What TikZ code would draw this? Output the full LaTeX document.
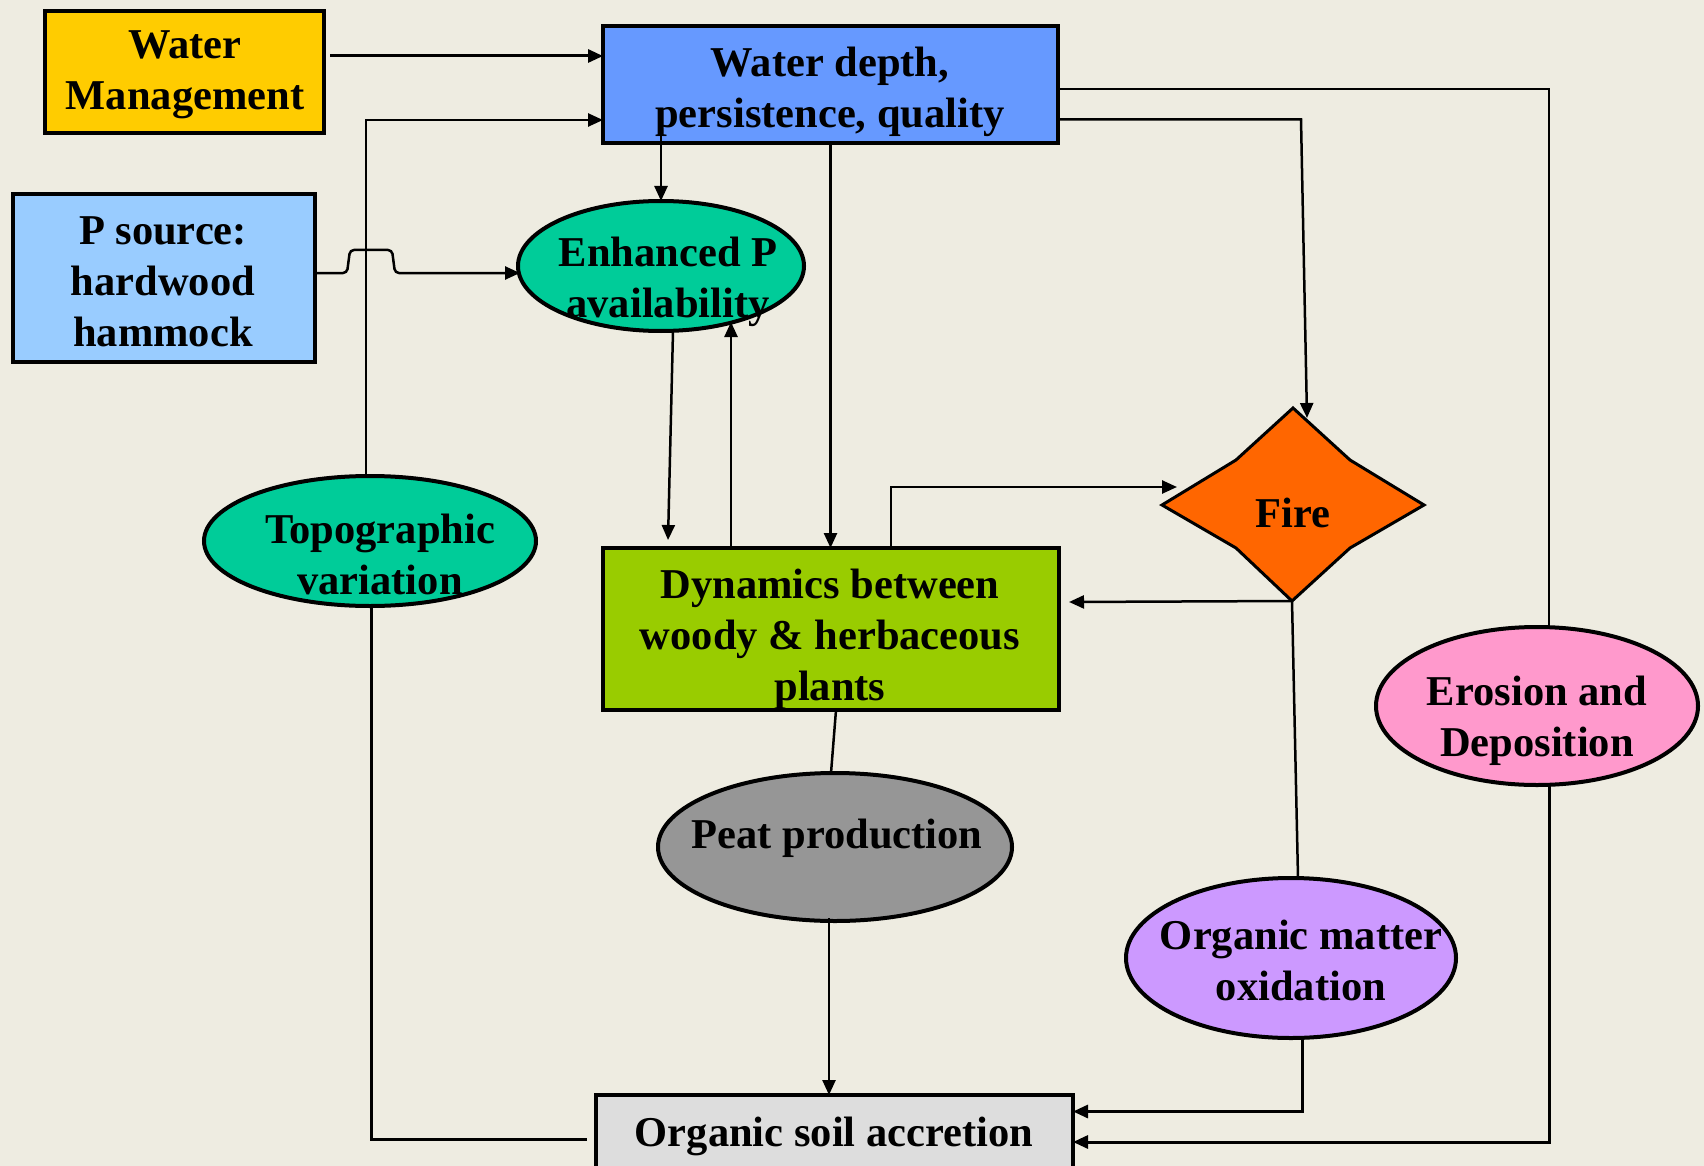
\documentclass[tikz,border=0pt]{standalone}
\usepackage{fontspec}
\setmainfont{Liberation Serif}
\usetikzlibrary{arrows.meta,calc,shapes.geometric}
\definecolor{bg}{RGB}{238,236,225}
\definecolor{wmY}{RGB}{255,204,0}
\definecolor{wdB}{RGB}{102,153,255}
\definecolor{psB}{RGB}{153,204,255}
\definecolor{tealG}{RGB}{0,204,153}
\definecolor{dynG}{RGB}{153,204,0}
\definecolor{fireO}{RGB}{255,102,0}
\definecolor{eroP}{RGB}{255,153,204}
\definecolor{peatG}{RGB}{150,150,150}
\definecolor{omoV}{RGB}{204,153,255}
\definecolor{osaG}{RGB}{221,221,221}
\begin{document}
\begin{tikzpicture}[x=1pt,y=-1pt,
  every node/.style={inner sep=0pt, outer sep=0pt},
  txt/.style={font=\fontsize{42.5}{51}\selectfont\bfseries, align=center},
  box/.style={draw, line width=4pt, rectangle},
  ell/.style={draw, line width=4pt, ellipse},
  conn/.style={line width=2.5pt},
  arr/.style={conn, -{Triangle[length=15pt,width=13pt]}},
]
\fill[bg] (0,0) rectangle (1704,1166);
\useasboundingbox (0,0) rectangle (1704,1166);

% shapes
\node[box, fill=wmY, minimum width=279, minimum height=122] (wm) at (184.5,72) {};
\node[box, fill=wdB, minimum width=455, minimum height=117] (wd) at (830.5,84.5) {};
\node[box, fill=psB, minimum width=302, minimum height=168] (ps) at (164,278) {};
\node[ell, fill=tealG, minimum width=286, minimum height=130] (ep) at (661,266) {};
\node[ell, fill=tealG, minimum width=332, minimum height=130] (topo) at (370,541) {};
\node[box, fill=dynG, minimum width=456, minimum height=162] (dyn) at (831,629) {};
\node[diamond, minimum width=262, minimum height=194] (fire) at (1293,505) {};
\draw[line width=3pt, fill=fireO, line join=miter]
  ($(fire.center)+(0,-97)$) -- ($(fire.center)+(57,-45)$) -- ($(fire.center)+(131,0)$)
  -- ($(fire.center)+(57,43)$) -- ($(fire.center)+(-1,96)$) -- ($(fire.center)+(-57,43)$)
  -- ($(fire.center)+(-131,0)$) -- ($(fire.center)+(-57,-45)$) -- cycle;
\node[ell, fill=eroP, minimum width=322, minimum height=158] (ero) at (1537,706) {};
\node[ell, fill=peatG, minimum width=354, minimum height=148] (peat) at (835,847) {};
\node[ell, fill=omoV, minimum width=330, minimum height=160] (omo) at (1291,958) {};
\node[box, fill=osaG, minimum width=477, minimum height=105] (osa) at (834.5,1147.5) {};

% connectors
\coordinate (a1) at ($(wm.east)+(6,-16)$);
\draw[arr, line width=3pt] (a1) -- (a1 -| wd.west);
\coordinate (b2) at ($(wd.west)+(0,35.5)$);
\draw[arr] ([xshift=-4pt]topo.north) |- (b2);
\coordinate (c3) at ($(ps.east)+(0,-5)$);
\draw[arr, rounded corners=4pt] (c3) -- ++(32,0) -- ++(3,-23) -- ++(42,0) -- ++(3,23) -- ($(c3 -| ep.west)+(2,0)$);
\draw[arr] ($(wd.south west)+(58,-7)$) -- (ep.north);
\draw[arr] ([xshift=12pt]ep.south) -- ($(dyn.north west)+(65,-8)$);
\draw[arr] ($(dyn.north west)+(128,-2)$) -- ($(ep.center)+(70,56)$);
\draw[arr] (wd.south) -- (wd.south |- dyn.north);
\coordinate (f8) at ($(wd.east)+(0,35)$);
\draw[arr] (f8) -- ++(243,0) -- ($(fire.center)+(14,-87)$);
\coordinate (g9) at ($(wd.east)+(0,4.5)$);
\draw[conn] (g9) -| ($(ero.north)+(12,0)$);
\draw[arr, line width=3pt] ($(ero.south)+(12,0)$) |- ($(osa.east)+(0,-5.5)$);
\draw[arr] ($(fire.center)+(-1,96)$) -- ($(dyn.east |- fire.south)+(10,0)$);
\draw[arr] ($(dyn.north west)+(288,-2)$) |- ($(fire.center)+(-116,-18)$);
\draw[conn] ($(fire.center)+(-1,96)$) -- ($(omo.north)+(7,0)$);
\draw[arr, line width=3pt] ($(omo.south)+(11,0)$) |- ($(osa.east)+(0,-36)$);
\draw[conn] ($(dyn.south)+(5,0)$) -- ($(peat.north)+(-4,0)$);
\coordinate (p15) at ($(peat.south)+(-6,-3)$);
\draw[arr] (p15) -- (p15 |- osa.north);
\draw[conn, line width=3pt] ($(topo.south)+(1,0)$) |- ($(osa.west)+(-9,-8.5)$);

% texts
\node[txt] (wmt) at (185,75) {Water\\Management};
\node[txt] (wdt) at (830,92) {Water depth,\\persistence, quality};
\node[txt] (pst) at (163,282) {P source:\\hardwood\\hammock};
\node[txt] (ept) at (668,282) {Enhanced P\\availability};
\node[txt] (topot) at (380,554) {Topographic\\variation};
\node[txt] (dynt) at (830,639) {Dynamics between\\woody \& herbaceous\\plants};
\node[txt] (firet) at (1293,513) {Fire};
\node[txt] (erot) at (1537,721) {Erosion and\\Deposition};
\node[txt] (peatt) at (837,838) {Peat production};
\node[txt] (omot) at (1301,960) {Organic matter\\oxidation};
\node[txt] (osat) at (834,1136) {Organic soil accretion};
\end{tikzpicture}
\end{document}
